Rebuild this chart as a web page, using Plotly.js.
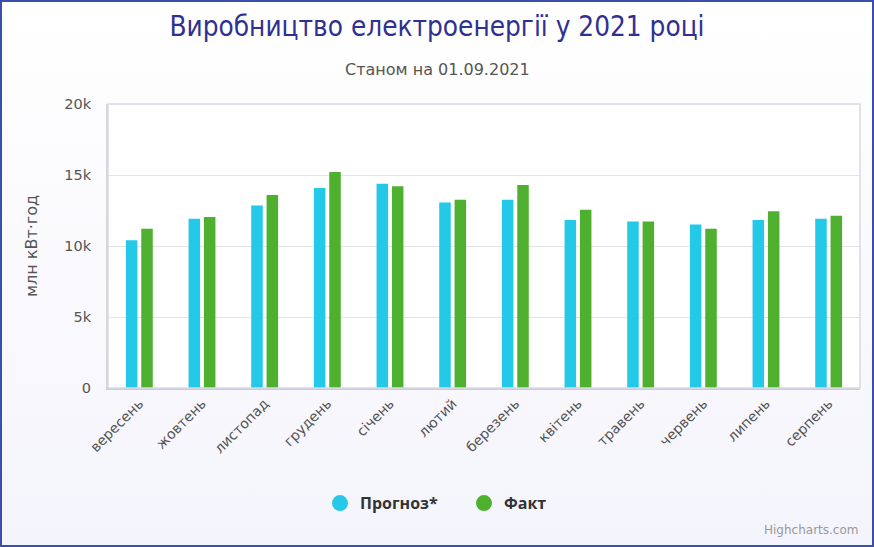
<!DOCTYPE html>
<html><head><meta charset="utf-8">
<script src="https://cdn.plot.ly/plotly-3.0.1.min.js"></script>
<style>
html,body{margin:0;padding:0;background:#fff;}
#chart{width:874px;height:547px;box-sizing:border-box;border:2px solid #3a4eab;background:linear-gradient(180deg,#ffffff 0%,#f4f4fc 100%);}
</style></head>
<body><div id="chart"></div>
<script>
const months = ["вересень","жовтень","листопад","грудень","січень","лютий","березень","квітень","травень","червень","липень","серпень"];
const forecast = [10400,11920,12860,14090,14390,13070,13260,11830,11730,11520,11830,11920];
const actual   = [11220,12040,13590,15210,14200,13260,14300,12560,11730,11220,12440,12130];
const yTicks = [0,5000,10000,15000,20000];
const yTickText = ["0","5k","10k","15k","20k"];

const blue = "#23c9e6", green = "#4eb02e";
const traces = [
  {type:"bar", x:months, y:forecast, name:"Прогноз*", marker:{color:blue}, showlegend:false, hoverinfo:"x+y"},
  {type:"bar", x:months, y:actual, name:"Факт", marker:{color:green}, showlegend:false, hoverinfo:"x+y"},
  {type:"scatter", mode:"markers", x:[months[0]], y:[null], name:"Прогноз*", marker:{color:blue, size:16, symbol:"circle"}},
  {type:"scatter", mode:"markers", x:[months[0]], y:[null], name:"Факт", marker:{color:green, size:16, symbol:"circle"}}
];
const font = "'DejaVu Sans', 'Open Sans', sans-serif";
const layout = {
  width:870, height:543,
  margin:{l:106, r:12, t:102, b:157},
  paper_bgcolor:"rgba(0,0,0,0)", plot_bgcolor:"#ffffff",
  font:{family:font, color:"#555"},
  title:{text:"Виробництво електроенергії у 2021 році", font:{size:27.7, color:"#2e3192", family:"'DejaVu Sans Condensed', 'Open Sans', sans-serif"}, x:0.5, xref:"container", y:0.956, yanchor:"middle"},
  barmode:"group", bargap:0.51, bargroupgap:0.25,
  xaxis:{type:"category", range:[-0.5,11.5], tickangle:-45, tickfont:{size:14, color:"#555"}, showline:true, linecolor:"#c8cbe0", linewidth:2, ticks:"", showgrid:false, zeroline:false},
  yaxis:{range:[0,20000], tickvals:yTicks, ticktext:yTickText, tickfont:{size:14.5, color:"#555"}, gridcolor:"#e4e4e4", showline:true, linecolor:"#d6d6d6", linewidth:2, zeroline:false, ticks:"", ticklen:0, ticklabelstandoff:12,
         title:{text:"млн кВт·год", font:{size:16, color:"#555"}, standoff:23}},
  legend:{orientation:"h", xref:"container", x:0.3655, xanchor:"left", yref:"container", y:0.077, yanchor:"middle", font:{size:16, color:"#333", weight:"bold", family:"'Open Sans', sans-serif"}, itemwidth:30, entrywidth:99},
  annotations:[
    {text:"Станом на 01.09.2021", xref:"paper", yref:"paper", x:0.4375, y:1.12, xanchor:"center", yanchor:"middle", showarrow:false, font:{size:16, color:"#555"}},
    {text:"Highcharts.com", xref:"paper", yref:"paper", x:1.0, y:-0.53, xanchor:"right", yanchor:"bottom", showarrow:false, font:{size:12, color:"#999"}}
  ],
  shapes:[{type:"rect", xref:"paper", yref:"paper", x0:0, x1:1, y0:0, y1:1, line:{color:"#d9d9e3", width:1.5}}]
};
Plotly.newPlot("chart", traces, layout, {displayModeBar:false, responsive:false});
</script></body></html>
